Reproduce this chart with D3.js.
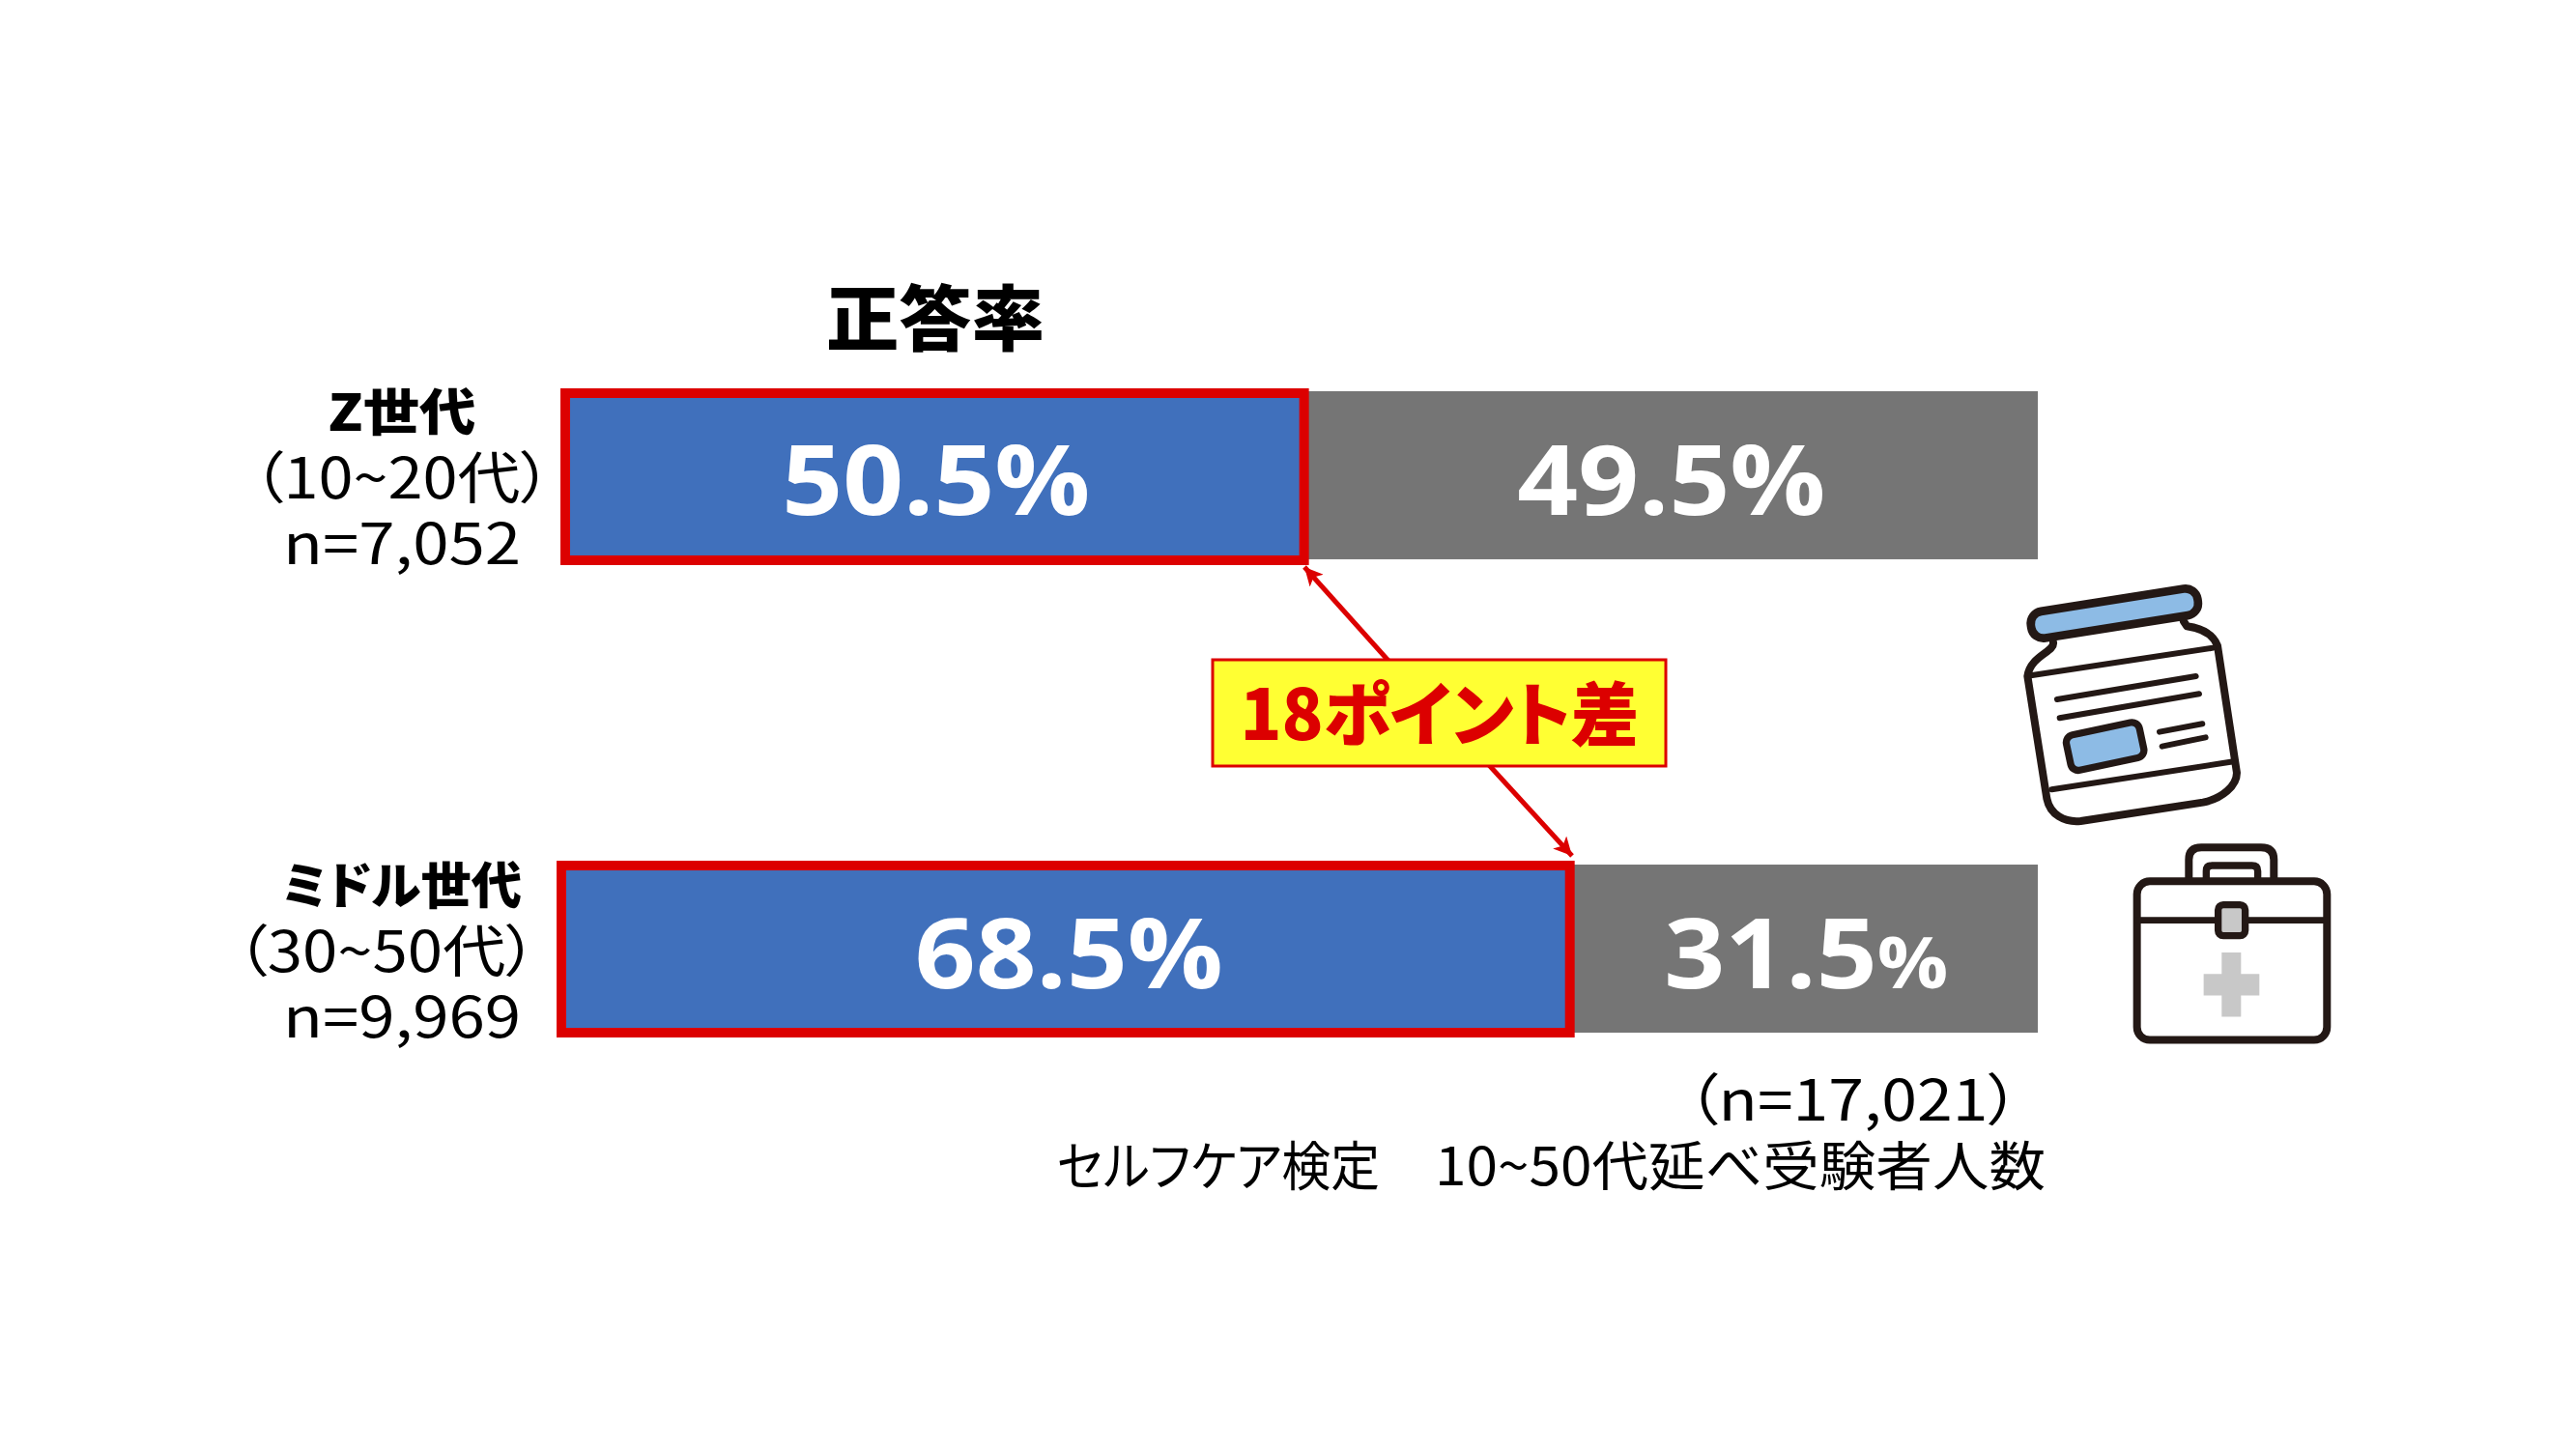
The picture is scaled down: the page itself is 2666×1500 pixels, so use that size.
<!DOCTYPE html>
<html lang="ja"><head><meta charset="utf-8">
<script src="https://cdnjs.cloudflare.com/ajax/libs/d3/7.8.5/d3.min.js"></script>
<style>html,body{margin:0;padding:0;background:#fff}svg{display:block}
text{font-family:"Noto Sans CJK JP","Noto Sans",sans-serif;font-feature-settings:"palt"}
.val{font-family:"Open Sans","Noto Sans",sans-serif;font-weight:700;fill:#fff;font-feature-settings:normal}</style>
</head><body><svg id="c" width="2666" height="1500"></svg>
<script>
const categories = ["Z世代", "ミドル世代"];
const ageLabels = ["（10~20代）", "（30~50代）"];
const sampleLabels = ["n=7,052", "n=9,969"];
const correct = [50.5, 68.5];
const incorrect = [49.5, 31.5];
const title = "正答率";
const gapLabel = "18ポイント差";
const noteTotal = "（n=17,021）";
const noteSource = ["セルフケア検定", "10~50代延べ受験者人数"];

const RED = "#DC0000", BLUE = "#4070BC", GREY = "#757575", INK = "#231815";
const svg = d3.select("#c");
const x = d3.scaleLinear().domain([0, 100]).range([581, 2109]);
const y = d3.scaleBand().domain(categories).range([405, 1069]).paddingInner(0.645);
const rows = categories.map((c, i) => ({c, i, age: ageLabels[i], n: sampleLabels[i], a: correct[i], b: incorrect[i]}));

function fitted(sel, len) { return sel.attr("textLength", len).attr("lengthAdjust", "spacingAndGlyphs"); }

// bars
svg.selectAll("rect.a").data(rows).join("rect").attr("class", "a")
  .attr("x", x(0)).attr("y", d => y(d.c)).attr("width", d => x(d.a) - x(0)).attr("height", y.bandwidth()).attr("fill", BLUE);
svg.selectAll("rect.b").data(rows).join("rect").attr("class", "b")
  .attr("x", d => x(d.a)).attr("y", d => y(d.c)).attr("width", d => x(d.a + d.b) - x(d.a)).attr("height", y.bandwidth()).attr("fill", GREY);

// red highlight frames around the correct-answer segment
const frameInset = [4, 0];
svg.selectAll("rect.f").data(rows).join("rect").attr("class", "f")
  .attr("x", d => x(0) + frameInset[d.i]).attr("y", d => y(d.c) + 2 - (d.i ? 1 : 0) * 1)
  .attr("width", d => x(d.a) - x(0) - frameInset[d.i] - 3).attr("height", y.bandwidth() - 1)
  .attr("fill", "none").attr("stroke", RED).attr("stroke-width", 10);

// value labels
const valY = d => y(d.c) + 128;
fitted(svg.selectAll("text.va").data(rows).join("text").attr("class", "val va")
  .attr("x", d => (x(0) + x(d.a)) / 2 + 2).attr("y", valY).attr("text-anchor", "middle").attr("font-size", 100)
  .text(d => d.a.toFixed(1) + "%"), 319);
fitted(svg.selectAll("text.vb").data(rows.slice(0, 1)).join("text").attr("class", "val vb")
  .attr("x", d => (x(d.a) + x(100)) / 2 - 1).attr("y", valY).attr("text-anchor", "middle").attr("font-size", 100)
  .text(d => d.b.toFixed(1) + "%"), 319);
const vb2 = svg.selectAll("text.vc").data(rows.slice(1)).join("text").attr("class", "val vc")
  .attr("x", d => (x(d.a) + x(100)) / 2 + 1).attr("y", valY).attr("text-anchor", "middle").attr("font-size", 100);
vb2.append("tspan").text(d => d.b.toFixed(1));
vb2.append("tspan").attr("font-size", 74).text("%");
fitted(vb2, 294);

// row labels
const headLen = [153, 248], ageLen = [310, 312], headX = [416, 416];
fitted(svg.selectAll("text.h").data(rows).join("text").attr("class", "h")
  .attr("x", d => headX[d.i]).attr("y", d => y(d.c) + 41).attr("text-anchor", "middle")
  .attr("font-size", 52).attr("font-weight", 900).attr("fill", "#000").text(d => d.c), d => headLen[d.i]);
fitted(svg.selectAll("text.g").data(rows).join("text").attr("class", "g")
  .attr("x", d => d.i ? 400 : 416).attr("y", d => y(d.c) + 111).attr("text-anchor", "middle")
  .attr("font-size", 58).attr("font-weight", 400).attr("fill", "#000").text(d => d.age), d => ageLen[d.i]);
fitted(svg.selectAll("text.n").data(rows).join("text").attr("class", "n")
  .attr("x", 416).attr("y", d => y(d.c) + 179).attr("text-anchor", "middle")
  .attr("font-size", 58).attr("font-weight", 400).attr("fill", "#000").text(d => d.n), 246);

// title
fitted(svg.append("text").attr("x", 968).attr("y", 357).attr("text-anchor", "middle")
  .attr("font-size", 74).attr("font-weight", 900).attr("fill", "#000").text(title), 226);

// gap annotation
const defs = svg.append("defs");
defs.append("marker").attr("id", "ah").attr("viewBox", "0 0 10 10").attr("refX", 10).attr("refY", 5)
  .attr("markerUnits", "userSpaceOnUse").attr("markerWidth", 22).attr("markerHeight", 19).attr("orient", "auto")
  .append("path").attr("d", "M0,0L10,5L0,10L2.5,5Z").attr("fill", RED);
const arrow = (x1, y1, x2, y2) => svg.append("line").attr("x1", x1).attr("y1", y1).attr("x2", x2).attr("y2", y2)
  .attr("stroke", RED).attr("stroke-width", 5).attr("marker-end", "url(#ah)");
arrow(1437, 684, 1350, 587);
arrow(1541, 792, 1627, 886);
svg.append("rect").attr("x", 1255).attr("y", 683).attr("width", 469).attr("height", 110)
  .attr("fill", "#FFFF33").attr("stroke", RED).attr("stroke-width", 3);
fitted(svg.append("text").attr("x", 1490).attr("y", 766).attr("text-anchor", "middle")
  .attr("font-size", 72).attr("font-weight", 900).attr("fill", RED).text(gapLabel), 413);

// notes
fitted(svg.append("text").attr("x", 1918).attr("y", 1160).attr("text-anchor", "middle")
  .attr("font-size", 58).attr("font-weight", 400).attr("fill", "#000").text(noteTotal), 345);
fitted(svg.append("text").attr("x", 1261).attr("y", 1227).attr("text-anchor", "middle")
  .attr("font-size", 55).attr("font-weight", 400).attr("fill", "#000").text(noteSource[0]), 334);
fitted(svg.append("text").attr("x", 1801).attr("y", 1227).attr("text-anchor", "middle")
  .attr("font-size", 55).attr("font-weight", 400).attr("fill", "#000").text(noteSource[1]), 632);

// icons (drawn in crop units at 1/3 scale)
const icons = svg.append("g").attr("transform", "translate(2030,580) scale(0.3333)")
  .attr("fill", "none").attr("stroke", INK).attr("stroke-linecap", "round").attr("stroke-linejoin", "round");
// jar
icons.append("path").attr("stroke-width", 24).attr("fill", "#fff")
  .attr("d", "M285,255 C290,285 215,295 205,360 L265,740 C275,790 320,815 370,810 L750,752 C810,740 855,700 855,660 L795,265 C780,225 735,210 700,205 L690,190");
icons.append("line").attr("x1", 215).attr("y1", 358).attr("x2", 782).attr("y2", 272).attr("stroke-width", 18);
icons.append("line").attr("x1", 280).attr("y1", 712).attr("x2", 845).attr("y2", 625).attr("stroke-width", 18);
[[297,432,728,360],[305,490,738,415],[615,533,748,508],[623,578,758,550]].forEach(l =>
  icons.append("line").attr("x1", l[0]).attr("y1", l[1]).attr("x2", l[2]).attr("y2", l[3]).attr("stroke-width", 18));
icons.append("rect").attr("x", -262).attr("y", -42).attr("width", 524).attr("height", 84).attr("rx", 38)
  .attr("transform", "translate(475,165) rotate(-9)").attr("fill", "#8DBBE5").attr("stroke-width", 26);
icons.append("rect").attr("x", -116).attr("y", -56).attr("width", 232).attr("height", 112).attr("rx", 24)
  .attr("transform", "translate(446,578) rotate(-12)").attr("fill", "#8DBBE5").attr("stroke-width", 22);
// kit
icons.append("path").attr("stroke-width", 24).attr("d", "M706,990 L706,930 Q706,892 745,892 L930,892 Q970,892 970,930 L970,990");
icons.append("path").attr("stroke-width", 22).attr("d", "M760,990 L760,965 Q760,948 778,948 L902,948 Q920,948 920,965 L920,990");
icons.append("rect").attr("x", 545).attr("y", 997).attr("width", 590).attr("height", 493).attr("rx", 40).attr("fill", "#fff").attr("stroke-width", 24);
icons.append("line").attr("x1", 548).attr("y1", 1118).attr("x2", 1132).attr("y2", 1118).attr("stroke-width", 20);
icons.append("rect").attr("x", 797).attr("y", 1070).attr("width", 84).attr("height", 96).attr("rx", 16).attr("fill", "#C8C8C8").attr("stroke-width", 22);
icons.append("path").attr("stroke", "none").attr("fill", "#C8C8C8")
  .attr("d", "M808,1218H868V1285H925V1352H868V1418H808V1352H752V1285H808Z");
</script></body></html>
